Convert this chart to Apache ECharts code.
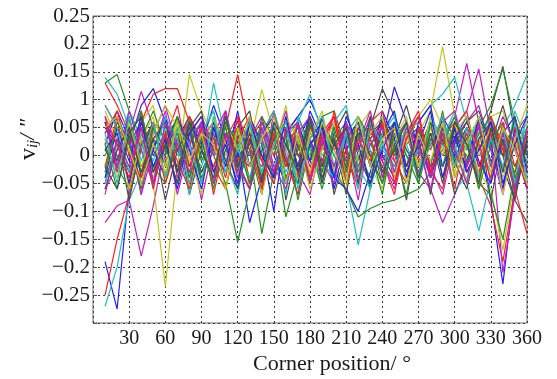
<!DOCTYPE html>
<html>
<head>
<meta charset="utf-8">
<script src="https://cdn.jsdelivr.net/npm/echarts@6/dist/echarts.min.js"></script>
<style>
  html, body { margin: 0; padding: 0; background: #fff; }
  #chart { width: 557px; height: 379px; }
</style>
</head>
<body>
<div id="chart"></div>
<script>
// corner positions (deg)
const xs = [10,20,30,40,50,60,70,80,90,100,110,120,130,140,150,160,170,180,
            190,200,210,220,230,240,250,260,270,280,290,300,310,320,330,340,350,360];

const xTickLabels = ['', '30', '60', '90', '120', '150', '180', '210', '240', '270', '300', '330', '360'];
// from -0.3 up to 0.25; the original figure prints "1" where 0.1 belongs
const yTickLabels = ['', '\u22120.25', '\u22120.2', '\u22120.15', '\u22120.1', '\u22120.05', '0', '0.05', '1', '0.15', '0.2', '0.25'];

// matlab style colour order b g r c m y k
const lineColors = ['#1f1fff', '#229022', '#ff2020', '#1fc0c0', '#c020c0', '#c4c420', '#4a4a4a'];

const s01 = [-0.19,-0.275,-0.06,0.02,0.05,-0.01, 0.03,-0.04,0.06,0.01,-0.03,0.04, -0.02,0.05,0.00,-0.05,0.03,0.07, 0.02,-0.03,0.04,-0.01,0.06,0.00, -0.04,0.03,0.05,-0.02,0.01,0.04, -0.03,0.02,-0.08,-0.23,-0.05,0.02];
const s02 = [0.13,0.145,0.08,0.03,-0.02,0.04, 0.06,0.01,-0.03,0.02,0.05,-0.04, 0.01,-0.14,-0.03,0.04,0.02,-0.01, 0.05,0.00,-0.04,0.03,0.06,0.02, -0.02,0.04,0.01,-0.03,0.05,0.03, 0.00,-0.04,0.06,0.02,-0.02,0.04];
const s03 = [-0.25,-0.15,-0.07,0.01,0.06,0.03, -0.02,0.04,0.07,0.02,0.05,0.145, 0.04,-0.01,0.03,0.06,-0.02,0.02, 0.04,-0.03,0.01,0.05,0.03,-0.02, 0.02,0.06,-0.01,0.03,0.00,0.05, 0.02,-0.03,0.04,-0.06,0.03,0.01];
const s04 = [-0.27,-0.2,-0.08,-0.03,0.02,-0.01, 0.04,0.01,-0.02,0.05,0.00,0.03, -0.04,0.02,0.05,-0.01,0.03,0.01, -0.02,0.04,-0.05,-0.16,-0.06,0.02, 0.05,0.01,-0.03,0.03,0.06,0.00, -0.02,0.04,0.01,-0.05,0.03,-0.01];
const s05 = [-0.12,-0.09,-0.08,-0.18,-0.09,0.02, 0.05,-0.02,0.03,0.06,-0.01,0.04, 0.00,0.03,-0.04,0.02,0.05,-0.02, 0.03,0.06,0.01,-0.03,0.04,0.02, -0.01,0.05,0.02,-0.04,0.03,0.07, 0.165,0.06,-0.02,0.04,0.01,-0.03];
const s06 = [0.02,-0.03,0.04,0.01,-0.05,-0.235, -0.02,0.145,0.08,0.03,-0.01,0.05, 0.02,0.04,-0.03,0.01,0.06,0.00, -0.04,0.03,0.05,-0.01,0.02,0.04, 0.01,-0.03,0.04,0.08,0.195,0.07, -0.02,0.04,0.01,0.05,-0.04,0.02];
const s07 = [0.03,0.00,-0.04,0.02,0.05,-0.02, 0.01,0.04,-0.03,0.02,0.06,0.00, -0.02,0.03,0.05,-0.04,0.01,0.03, 0.06,0.02,-0.03,0.04,0.05,0.12, 0.07,0.01,-0.02,0.04,0.03,-0.01, 0.05,0.02,0.08,0.16,0.04,-0.05];
const s08 = [0.05,0.02,-0.03,0.06,0.01,-0.04, 0.03,0.07,0.02,-0.02,0.04,0.01, -0.12,-0.04,0.02,0.05,0.00,0.03, -0.03,0.04,0.01,0.06,-0.02,0.03, 0.123,0.06,0.02,-0.03,0.04,0.01, 0.05,-0.02,0.03,0.00,0.06,0.02];
const s09 = [0.00,0.04,0.02,-0.03,0.05,0.01, -0.02,0.03,0.06,0.00,-0.05,-0.155, -0.06,0.01,0.03,-0.11,-0.03,0.04, 0.02,-0.02,0.05,0.01,-0.04,0.03, 0.06,0.00,-0.03,0.02,0.04,-0.01, 0.03,0.05,-0.02,0.04,0.01,0.03];
const s10 = [0.13,0.09,0.04,-0.02,0.03,0.06, 0.01,-0.03,0.05,0.02,0.04,-0.01, 0.03,0.06,0.00,0.02,-0.04,0.05, 0.01,0.03,-0.02,0.04,0.00,-0.03, 0.05,0.02,0.04,-0.01,0.03,0.06, 0.02,-0.04,-0.09,-0.19,-0.06,0.03];
const s11 = [0.14,0.11,0.05,0.01,-0.03,0.04, 0.02,0.06,0.00,0.13,0.03,-0.02, 0.04,0.01,0.05,-0.03,0.02,0.06, 0.00,0.03,-0.04,0.02,0.05,0.01, -0.02,0.04,0.06,0.09,0.11,0.14, 0.06,0.02,-0.03,0.04,0.01,0.05];
const s12 = [0.06,0.02,0.04,0.115,0.05,-0.01, 0.03,0.00,0.05,-0.03,0.02,0.06, 0.01,-0.02,0.04,0.03,-0.05,0.02, 0.05,0.01,-0.03,0.04,0.02,-0.01, 0.03,0.06,0.00,0.04,-0.02,0.05, 0.08,0.155,0.04,-0.21,-0.07,0.02];
const s13 = [-0.02,0.05,0.01,0.03,-0.04,0.02, 0.06,0.03,-0.01,0.04,0.00,0.05, 0.02,0.118,0.04,-0.02,0.03,0.01, -0.03,0.04,0.02,0.06,-0.01,0.03, 0.00,0.05,-0.02,0.03,0.06,0.01, 0.04,-0.03,-0.06,-0.17,-0.04,0.03];
const s14 = [0.01,-0.02,0.03,0.05,0.00,0.04, -0.03,0.02,0.06,0.01,-0.02,0.03, 0.05,0.00,-0.03,0.04,0.07,0.02, -0.01,0.05,0.03,-0.02,0.04,0.06, 0.02,-0.03,0.01,0.05,0.00,0.03, 0.06,0.01,0.04,-0.02,-0.08,-0.12];
const s15 = [0.04,0.07,0.02,0.09,0.12,0.06, 0.01,-0.02,0.04,0.03,0.06,0.00, 0.02,0.05,-0.03,0.04,0.07,0.10, 0.05,0.02,-0.01,0.04,0.03,0.06, 0.01,-0.02,0.05,0.02,0.04,0.00, 0.03,0.06,-0.01,0.02,0.05,0.03];
const s16 = [-0.04,0.01,0.05,-0.02,0.03,0.00, 0.04,-0.03,0.02,0.05,0.01,-0.02, 0.03,0.00,-0.04,0.02,0.05,-0.01, 0.02,-0.03,-0.06,-0.11,-0.095,-0.085, -0.08,-0.07,-0.06,-0.03,0.02,0.04, 0.01,0.05,0.09,0.155,0.06,0.02];
const s17 = [0.09,0.05,0.02,0.06,0.11,0.12, 0.12,0.06,0.01,-0.02,0.04,0.02, 0.05,-0.01,0.03,0.06,0.00,-0.03, 0.04,0.01,0.05,-0.02,0.03,0.06, 0.00,0.04,-0.03,0.02,0.05,0.01, -0.02,0.03,0.06,0.01,-0.03,0.04];
const s18 = [0.03,-0.01,0.04,0.02,-0.03,0.05, 0.00,0.03,0.06,0.02,-0.02,0.04, 0.01,0.05,-0.02,0.03,0.06,0.11, 0.04,0.00,0.03,-0.03,0.02,0.05, 0.01,0.04,-0.02,0.03,0.06,0.02, -0.05,-0.135,-0.04,0.05,0.09,0.145];
const s19 = [-0.06,-0.02,0.05,-0.07,0.01,0.08, -0.04,0.03,-0.08,0.02,0.07,-0.03, 0.05,-0.06,0.08,0.00,-0.07,0.03, -0.05,0.06,0.02,-0.08,0.05,-0.01, -0.06,0.04,-0.03,-0.06,-0.12,-0.07, -0.02,0.06,-0.05,0.03,-0.07,0.04];
const s20 = [0.08,0.03,-0.05,0.06,0.09,-0.02, 0.07,-0.06,0.03,0.08,-0.03,0.05, -0.06,0.07,0.01,0.09,-0.05,0.03, 0.08,-0.02,-0.06,0.05,0.08,-0.04, 0.06,0.02,0.07,0.10,0.05,-0.03, 0.04,-0.06,0.07,0.08,0.01,0.06];
const s21 = [-0.05,0.03,-0.08,0.02,0.06,-0.04, 0.05,-0.07,0.01,-0.05,0.08,-0.01, -0.06,0.04,0.07,-0.08,0.02,-0.05, 0.06,-0.07,0.01,0.04,-0.06,0.07, 0.02,-0.08,0.05,-0.04,0.03,-0.07, -0.01,0.06,-0.08,0.03,-0.06,0.02];
const s22 = [0.02,0.08,0.03,-0.05,0.01,0.07, -0.03,0.06,0.02,0.09,0.03,-0.06, 0.07,0.02,-0.10,0.05,-0.02,0.08, 0.03,-0.04,-0.06,-0.10,-0.03,0.04, 0.08,-0.02,0.05,-0.04,0.07,0.03, -0.02,0.07,0.02,-0.06,0.05,0.00];
const s23 = [0.06,-0.02,-0.06,0.03,0.08,0.02, -0.05,0.07,-0.01,0.04,-0.06,0.05, 0.01,-0.07,0.06,-0.02,0.04,-0.05, 0.07,0.08,-0.03,0.04,-0.06,0.06, 0.01,-0.07,0.05,-0.02,0.08,-0.04, 0.02,-0.05,-0.07,-0.15,-0.03,0.05];
const s24 = [-0.02,0.07,-0.06,0.08,-0.03,0.03, 0.09,-0.02,0.05,-0.07,0.03,0.07, -0.05,0.04,0.08,-0.01,-0.07,0.06, -0.02,0.08,0.01,-0.06,0.05,-0.01, -0.07,0.04,0.08,-0.03,-0.06,0.05, 0.08,-0.02,0.04,0.01,-0.06,-0.14];
const s25 = [-0.05,0.02,0.08,0.03,-0.06,0.06, 0.02,-0.07,0.04,0.08,-0.01,-0.07, 0.05,-0.03,0.06,-0.07,0.07,0.01, -0.05,0.06,0.09,-0.02,-0.06,0.04, 0.07,-0.04,0.01,0.06,0.02,-0.06, -0.04,0.03,0.07,-0.03,0.08,0.02];
const s26 = [0.06,-0.03,0.03,-0.07,0.04,0.09, 0.01,0.06,-0.05,0.04,0.08,-0.02, -0.06,0.06,0.01,0.08,-0.03,-0.07, 0.03,0.07,-0.04,0.02,0.08,-0.01, -0.05,0.04,0.07,-0.02,-0.07,0.03, 0.06,0.09,0.01,-0.07,0.04,0.07];
const s27 = [-0.03,0.05,-0.06,0.03,0.07,-0.05, 0.06,0.00,-0.07,0.07,0.02,-0.04, 0.05,-0.07,0.02,0.06,-0.05,0.04, 0.07,-0.03,0.03,0.06,-0.02,-0.06, 0.03,0.07,-0.04,0.05,0.00,0.06, -0.05,0.02,0.06,-0.07,0.03,-0.05];
const s28 = [0.06,-0.01,0.07,-0.04,0.03,0.06, -0.03,0.05,0.08,-0.05,0.01,0.05, 0.08,-0.04,0.03,0.06,-0.02,0.07, -0.05,0.04,0.08,0.00,-0.05,0.06, 0.03,0.09,0.01,0.06,-0.04,0.02, 0.06,0.08,0.02,0.09,0.01,-0.06];
const s29 = [-0.04,0.05,-0.01,0.07,-0.05,0.02, 0.07,0.01,-0.06,0.05,-0.02,0.08, -0.02,0.04,0.07,-0.05,0.06,-0.01, 0.07,-0.06,0.03,0.06,-0.02,0.08, 0.03,-0.04,0.06,0.09,-0.02,0.03, 0.07,-0.01,-0.05,0.04,0.07,-0.03];
const s30 = [0.02,-0.06,0.03,0.08,-0.02,-0.05, 0.03,0.06,-0.04,0.01,0.05,-0.03, 0.06,0.02,-0.05,0.04,-0.08,0.02, -0.06,0.03,0.06,-0.03,0.01,-0.07, 0.04,0.00,-0.05,0.06,0.02,0.07, -0.01,0.04,0.07,0.02,-0.06,0.03];
const s31 = [0.04,0.08,0.00,-0.04,0.06,-0.05, 0.02,0.07,0.03,-0.02,-0.06,0.03, 0.07,-0.01,-0.05,0.05,0.02,-0.04, 0.04,0.07,-0.01,-0.05,0.06,0.08, -0.01,-0.05,0.05,0.01,0.07,-0.02, 0.04,-0.04,0.07,0.01,0.05,-0.06];
const s32 = [0.09,0.05,-0.03,0.04,-0.01,0.07, 0.03,-0.05,0.06,0.00,0.07,0.01, -0.04,0.04,0.08,0.01,-0.05,0.06, -0.01,-0.04,0.04,0.07,0.01,-0.03, 0.06,0.02,-0.04,0.07,0.03,0.08, 0.01,0.07,-0.02,0.05,-0.05,0.08];
const s33 = [0.07,-0.02,0.08,0.01,-0.05,0.04, -0.07,0.02,0.06,0.00,0.08,-0.04, 0.03,0.07,-0.02,-0.06,0.04,0.07, -0.01,-0.05,0.06,0.01,0.07,-0.04, 0.05,-0.02,0.04,-0.04,0.06,0.08, -0.02,0.05,0.01,0.07,0.02,-0.06];
const s34 = [0.03,-0.04,0.06,-0.02,0.04,0.09, 0.05,-0.03,0.04,-0.05,0.06,0.01, 0.07,-0.04,0.02,0.07,0.03,-0.06, 0.01,0.06,-0.04,0.00,0.04,0.07, -0.04,0.04,-0.02,0.07,0.01,0.04, 0.07,0.00,0.05,-0.04,0.03,0.09];
const s35 = [-0.06,0.01,0.05,-0.03,0.03,-0.08, 0.01,0.05,-0.05,0.06,-0.01,-0.06, 0.03,-0.04,0.05,-0.01,-0.05,0.06, -0.02,0.03,-0.07,0.05,0.00,-0.05, 0.06,-0.02,0.03,-0.07,0.05,-0.01, -0.06,0.03,0.06,0.00,-0.08,0.03];
const s36 = [0.01,0.04,-0.05,0.06,-0.02,0.03, -0.06,0.04,0.07,-0.03,0.02,-0.05, 0.06,0.00,-0.04,0.07,-0.03,0.02, 0.05,-0.04,0.07,0.02,-0.05,0.01, 0.06,-0.03,0.02,0.08,-0.04,0.05, -0.03,0.01,0.06,-0.05,0.02,0.07];
const s37 = [-0.03,0.06,0.02,-0.06,0.05,0.01, 0.07,-0.04,0.03,-0.06,0.06,0.02, -0.05,0.07,0.03,-0.04,0.01,0.06, -0.03,0.05,-0.02,0.07,0.03,-0.05, 0.02,0.06,-0.05,0.03,-0.02,0.06, 0.03,-0.06,0.02,0.06,-0.04,0.01];
const s38 = [0.07,0.02,-0.04,0.05,-0.06,0.04, -0.01,-0.06,0.05,0.03,-0.04,0.07, 0.02,-0.06,0.04,-0.02,0.06,-0.04, 0.02,0.07,-0.05,0.03,-0.01,0.06, -0.05,0.03,0.07,-0.03,0.04,-0.06, 0.05,0.02,-0.04,0.06,-0.02,0.04];
const s39 = [0.04,-0.05,0.07,-0.01,0.06,-0.04, 0.05,0.02,-0.05,0.07,-0.03,0.01, 0.06,-0.03,0.02,0.06,-0.06,0.03, 0.07,-0.02,0.04,-0.06,0.06,0.02, -0.03,0.06,-0.04,0.02,0.07,-0.02, 0.05,-0.04,0.03,-0.02,0.06,-0.04];
const s40 = [-0.07,0.03,-0.02,0.05,-0.05,0.06, 0.02,-0.03,0.06,-0.05,0.04,-0.02, -0.06,0.05,-0.03,0.04,0.06,-0.05, 0.03,-0.02,0.06,-0.04,0.02,0.05, -0.03,0.05,0.02,-0.06,0.04,0.01, -0.05,0.06,-0.02,0.04,-0.06,0.05];
const s41 = [0.05,0.07,0.01,-0.05,0.02,-0.03, 0.06,-0.01,0.04,0.02,-0.06,0.05, -0.02,0.03,0.07,-0.05,0.04,-0.03, 0.06,0.01,-0.05,0.07,-0.02,0.03, 0.05,-0.05,0.04,-0.01,0.06,-0.04, 0.02,0.07,-0.03,0.05,0.01,-0.05];
const s42 = [-0.02,-0.06,0.04,0.07,-0.03,0.02, -0.05,0.06,0.01,-0.04,0.07,-0.02, 0.04,-0.05,0.06,0.02,-0.03,0.07, -0.04,0.02,0.05,-0.05,0.07,-0.03, 0.01,0.06,-0.04,0.04,-0.05,0.06, 0.02,-0.05,0.05,-0.03,0.07,-0.02];

const allSeries = [s01,s02,s03,s04,s05,s06,s07,s08,s09,s10,s11,s12,s13,s14,s15,s16,s17,s18,s19,s20,s21,
                   s22,s23,s24,s25,s26,s27,s28,s29,s30,s31,s32,s33,s34,s35,s36,s37,s38,s39,s40,s41,s42];

const chart = echarts.init(document.getElementById('chart'), null, { renderer: 'canvas' });
const font = 'Liberation Serif';
const gridDots = { type: [2, 3], color: '#3a3a3a', width: 1 };

chart.setOption({
  animation: false,
  backgroundColor: '#fff',
  grid: {
    left: 93, right: 30, top: 16, bottom: 56,
    show: true, borderColor: '#6a6a6a', borderWidth: 1,
    outerBoundsMode: 'none'
  },
  xAxis: {
    type: 'value',
    min: 0, max: 360, interval: 30,
    name: 'Corner position/ \u00b0',
    nameLocation: 'middle',
    nameGap: 30,
    nameMoveOverlap: false,
    nameTextStyle: { fontFamily: font, fontSize: 22, color: '#1a1a1a', padding: [0, 0, 0, 44] },
    axisLine: { show: false },
    axisTick: { show: true, inside: true, length: 4, lineStyle: { color: '#555' } },
    axisLabel: {
      fontFamily: font, fontSize: 20, color: '#1a1a1a', margin: 6,
      formatter: v => xTickLabels[Math.round(v / 30)] ?? ''
    },
    splitLine: { show: true, lineStyle: gridDots }
  },
  yAxis: {
    type: 'value',
    min: -0.3, max: 0.25, interval: 0.05,
    name: '{v|v}{s|ij}{n|/ \u2033}',
    nameLocation: 'middle',
    nameGap: 52,
    nameRotate: 90,
    nameMoveOverlap: false,
    nameTextStyle: {
      padding: [0, 0, 0, 60],
      rich: {
        v: { fontFamily: font, fontSize: 24, color: '#1a1a1a' },
        s: { fontFamily: font, fontSize: 15, fontStyle: 'italic', color: '#1a1a1a', verticalAlign: 'bottom', padding: [10, 0, 0, 0] },
        n: { fontFamily: font, fontSize: 22, fontStyle: 'italic', color: '#1a1a1a' }
      }
    },
    axisLine: { show: false },
    axisTick: { show: true, inside: true, length: 4, lineStyle: { color: '#555' } },
    axisLabel: {
      fontFamily: font, fontSize: 21, color: '#1a1a1a', margin: 3,
      formatter: v => yTickLabels[Math.round((v + 0.3) / 0.05)] ?? ''
    },
    splitLine: { show: true, lineStyle: gridDots }
  },
  series: allSeries.map((vals, i) => ({
    type: 'line',
    name: 's' + (i + 1),
    data: xs.map((x, j) => [x, vals[j]]),
    symbol: 'none',
    silent: true,
    lineStyle: { width: 1.2, color: lineColors[i % lineColors.length] },
    emphasis: { disabled: true }
  }))
});
</script>
</body>
</html>
